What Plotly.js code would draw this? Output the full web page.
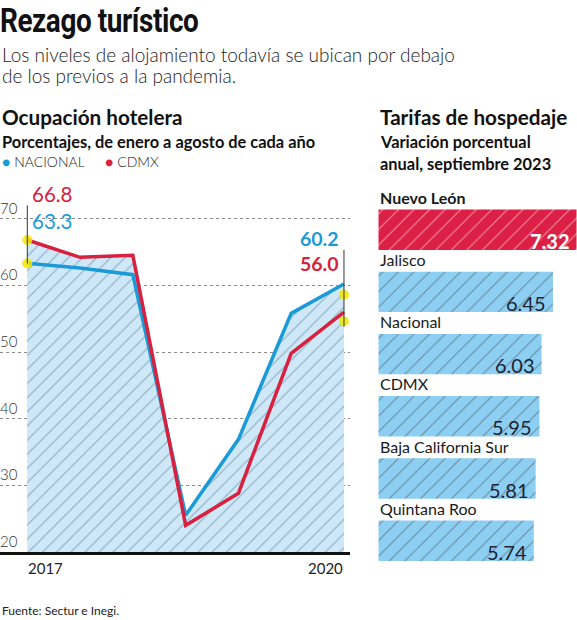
<!DOCTYPE html>
<html>
<head>
<meta charset="utf-8">
<script src="https://cdn.plot.ly/plotly-3.0.1.min.js"></script>
<style>
  html, body { margin: 0; padding: 0; background: #fff; }
  #wrap { position: relative; width: 577px; height: 620px; }
  #chart { width: 577px; height: 620px; }
  #titulo {
    position: absolute; left: 0; top: 3px; margin: 0;
    font-family: Roboto, sans-serif; font-weight: 700; font-size: 34px; line-height: 1;
    color: #111; white-space: nowrap; letter-spacing: -0.5px;
    transform: scaleX(0.82); transform-origin: left top;
  }
</style>
</head>
<body>
<div id="wrap">
  <div id="chart"></div>
  <h1 id="titulo">Rezago turístico</h1>
</div>
<script>
/* ── Datos ── */
const periodos    = ['2017', '2018', '2019', '2020', '2021', '2022', '2023'];
const nacional    = [63.3, 62.6, 61.6, 25.5, 36.9, 55.8, 60.2];
const cdmx        = [66.8, 64.2, 64.5, 24.0, 28.8, 49.8, 56.0];
const ejeXTexto   = ['2017', '2020'];
const ejeYValores = [20, 30, 40, 50, 60, 70];

// puntos amarillos de referencia (inicio y fin)
const puntosX = ['2017', '2017', '2023', '2023'];
const puntosY = [63.3, 66.8, 58.6, 54.6];

const estados = ['Nuevo León', 'Jalisco', 'Nacional', 'CDMX', 'Baja California Sur', 'Quintana Roo'];
const tarifas = [7.32, 6.45, 6.03, 5.95, 5.81, 5.74];

/* ── Estilo ── */
const AZUL = '#1a9bd8';
const ROJO = '#d8203f';
const FONT = 'Lato, "Open Sans", sans-serif';
const W = 577, H = 620;
const ULTIMO = periodos.length - 1;   // índice de la última categoría

// pixel -> paper
const px = x => x / W;
const py = y => 1 - y / H;

function txt(x, y, text, font) {
  return {
    xref: 'paper', yref: 'paper', x: px(x), y: py(y),
    xanchor: 'left', yanchor: 'middle', showarrow: false, text,
    font: Object.assign({ family: FONT, size: 15, color: '#222' }, font),
  };
}

const fillPattern = { shape: '/', bgcolor: '#cfe8f8', fgcolor: '#93b3c8', size: 10, solidity: 0.12 };

const traces = [
  { x: periodos, y: nacional, mode: 'none', fill: 'tozeroy', fillcolor: '#cfe8f8',
    fillpattern: fillPattern, hoverinfo: 'skip', showlegend: false },
  { x: periodos, y: cdmx, mode: 'none', fill: 'tozeroy', fillcolor: '#cfe8f8',
    fillpattern: fillPattern, hoverinfo: 'skip', showlegend: false },
  { x: periodos, y: nacional, mode: 'lines', name: 'NACIONAL',
    line: { color: AZUL, width: 3.5 }, showlegend: false },
  { x: periodos, y: cdmx, mode: 'lines', name: 'CDMX',
    line: { color: ROJO, width: 3.5 }, showlegend: false },
  { x: puntosX, y: puntosY, mode: 'markers', hoverinfo: 'skip', showlegend: false,
    marker: { color: 'rgba(242,232,0,0.85)', size: 10, line: { width: 0 } }, cliponaxis: false },
  { type: 'bar', orientation: 'h', x: tarifas, y: estados, xaxis: 'x2', yaxis: 'y2',
    width: 0.65, showlegend: false, hoverinfo: 'x+y',
    marker: {
      color: tarifas.map((v, i) => i === 0 ? '#dc1f44' : '#8dcff3'),
      line: { width: 0 },
      pattern: {
        shape: '/', fillmode: 'overlay', size: 11, solidity: 0.1,
        fgcolor: tarifas.map((v, i) => i === 0 ? '#ee7389' : '#4f9dcc'),
      },
    },
  },
];

const annotations = [
  txt(0, 54, 'Los niveles de alojamiento todavía se ubican por debajo', { size: 19, weight: 300 }),
  txt(0, 76, 'de los previos a la pandemia.', { size: 19, weight: 300 }),

  txt(0, 117, '<b>Ocupación hotelera</b>', { size: 20.7, color: '#111', weight: 900 }),
  txt(0, 141, 'Porcentajes, de enero a agosto de cada año', { size: 16.4, color: '#111', weight: 700 }),
  txt(0, 162, `<span style="color:${AZUL}">●</span> NACIONAL`, { size: 14, weight: 300 }),
  txt(103, 162, `<span style="color:${ROJO}">●</span> CDMX`, { size: 14, weight: 300 }),

  txt(378, 117, '<b>Tarifas de hospedaje</b>', { size: 20.7, color: '#111', weight: 900 }),
  txt(378, 141, 'Variación porcentual', { size: 16.4, color: '#111', weight: 700 }),
  txt(378, 163, 'anual, septiembre 2023', { size: 16.4, color: '#111', weight: 700 }),

  txt(0, 610, 'Fuente: Sectur e Inegi.', { size: 12 }),

  // etiquetas de extremos (x por índice: las categorías parecen números)
  { xref: 'x', yref: 'paper', x: 0, y: py(208), xanchor: 'left', yanchor: 'middle', xshift: 3,
    align: 'left', showarrow: false,
    text: `<span style="color:${ROJO}">${cdmx[0].toFixed(1)}</span><br><span style="color:${AZUL}">${nacional[0].toFixed(1)}</span>`,
    font: { family: FONT, size: 20.5, color: ROJO } },
  { xref: 'x', yref: 'paper', x: ULTIMO, y: py(251), xanchor: 'right', yanchor: 'middle', xshift: -3,
    align: 'right', showarrow: false,
    text: `<b><span style="color:${AZUL}">${nacional[ULTIMO].toFixed(1)}</span><br><span style="color:${ROJO}">${cdmx[ULTIMO].toFixed(1)}</span></b>`,
    font: { family: FONT, size: 19.5, color: AZUL } },

  // eje x
  { xref: 'x', yref: 'paper', x: 0, y: py(568), xanchor: 'left', yanchor: 'middle', xshift: -1,
    showarrow: false, text: ejeXTexto[0], font: { family: FONT, size: 15, color: '#222' } },
  { xref: 'x', yref: 'paper', x: ULTIMO, y: py(568), xanchor: 'right', yanchor: 'middle', xshift: 1,
    showarrow: false, text: ejeXTexto[1], font: { family: FONT, size: 15, color: '#222' } },
];

// eje y: etiquetas sobre cada línea de rejilla
ejeYValores.forEach(v => {
  annotations.push({
    xref: 'paper', yref: 'y', x: 0, y: v, xanchor: 'left', yanchor: 'bottom', yshift: 0, xshift: -2,
    showarrow: false, text: String(v), font: { family: FONT, size: 15, color: '#333', weight: 300 },
  });
});

// etiquetas de barras
estados.forEach((e, i) => {
  annotations.push({
    xref: 'x2', yref: 'y2', x: 0, y: e, xanchor: 'left', yanchor: 'bottom', yshift: 21,
    showarrow: false, text: i === 0 ? '<b>' + e + '</b>' : e,
    font: { family: FONT, size: 16, color: '#1a1a1a', weight: i === 0 ? 900 : 400 },
  });
  annotations.push({
    xref: 'x2', yref: 'y2', x: tarifas[i], y: e, xanchor: 'right', yanchor: 'bottom', yshift: -25, xshift: -5,
    showarrow: false, text: i === 0 ? '<b>' + tarifas[i].toFixed(2) + '</b>' : tarifas[i].toFixed(2),
    font: { family: FONT, size: 20, color: i === 0 ? '#fff' : '#1c2433', weight: i === 0 ? 900 : 400 },
  });
});

const shapes = [
  { type: 'line', xref: 'x', yref: 'y', x0: 0, x1: 0, y0: 72, y1: nacional[0],
    line: { color: '#333', width: 1 } },
  { type: 'line', xref: 'x', yref: 'y', x0: ULTIMO, x1: ULTIMO, y0: 65.3, y1: 53.8,
    line: { color: '#333', width: 1 } },
];

const layout = {
  width: W, height: H,
  margin: { t: 0, b: 0, l: 0, r: 0 },
  paper_bgcolor: '#fff',
  plot_bgcolor: 'rgba(0,0,0,0)',
  font: { family: FONT, color: '#222' },
  xaxis: {
    domain: [0, px(350)], type: 'category', range: [-0.517, 6.114],
    showticklabels: false, ticks: '', showgrid: false, zeroline: false,
    showline: true, linecolor: '#111', linewidth: 3, anchor: 'y',
  },
  yaxis: {
    domain: [py(552), py(198.7)], range: [20, 73],
    tickvals: ejeYValores, ticks: '', showticklabels: false,
    showgrid: true, gridcolor: '#8a8a8a', griddash: 'dot', gridwidth: 1,
    zeroline: false, showline: false, anchor: 'x',
  },
  xaxis2: { domain: [px(378.3), 1], range: [0, 7.337], visible: false, anchor: 'y2', fixedrange: true },
  yaxis2: {
    domain: [py(584.7), py(198.6)], type: 'category', autorange: 'reversed',
    showticklabels: false, showgrid: false, zeroline: false, ticks: '', anchor: 'x2',
  },
  annotations,
  shapes,
  showlegend: false,
};

Plotly.newPlot('chart', traces, layout, { displayModeBar: false, staticPlot: true });
</script>
</body>
</html>
